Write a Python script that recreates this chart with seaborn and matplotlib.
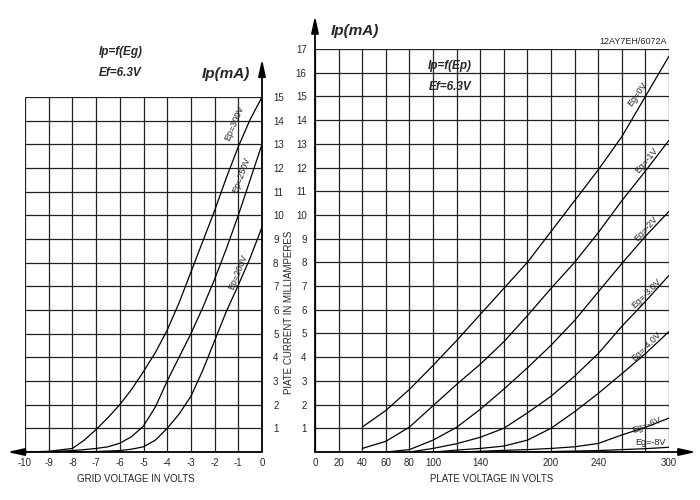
import matplotlib
matplotlib.use("Agg")
import matplotlib.pyplot as plt
import seaborn as sns
import pandas as pd
import numpy as np

# ---------------- data: left panel Ip = f(Eg) ----------------
eg_left = [-10, -9, -8, -7.5, -7, -6.5, -6, -5.5, -5, -4.5, -4, -3.5, -3, -2.5, -2, -1.5, -1, -0.5, 0]
ip_ep300 = [0.0, 0.03, 0.15, 0.5, 0.95, 1.45, 2.0, 2.65, 3.4, 4.2, 5.15, 6.3, 7.6, 8.9, 10.2, 11.6, 12.9, 14.05, 15.0]
ip_ep250 = [0.0, 0.01, 0.06, 0.1, 0.15, 0.22, 0.37, 0.65, 1.1, 1.9, 3.0, 4.0, 5.0, 6.1, 7.3, 8.6, 10.0, 11.5, 13.0]
ip_ep200 = [0.0, 0.0, 0.01, 0.015, 0.02, 0.04, 0.06, 0.12, 0.22, 0.5, 1.0, 1.6, 2.35, 3.45, 4.7, 5.95, 7.05, 8.2, 9.5]
left_names = ["Ep=300V", "Ep=250V", "Ep=200V"]

# ---------------- data: right panel Ip = f(Ep) ----------------
ep_eg0 = [40, 60, 80, 100, 120, 140, 160, 180, 200, 220, 240, 260, 280, 300]
ip_eg0 = [1.05, 1.75, 2.64, 3.65, 4.7, 5.8, 6.9, 8.0, 9.3, 10.6, 11.9, 13.3, 15.0, 16.7]
ep_eg1 = [40, 60, 80, 100, 120, 140, 160, 180, 200, 220, 240, 260, 280, 300]
ip_eg1 = [0.15, 0.45, 1.05, 1.95, 2.85, 3.7, 4.65, 5.75, 6.9, 8.0, 9.25, 10.6, 11.85, 13.15]
ep_eg2 = [60, 80, 100, 120, 140, 160, 180, 200, 220, 240, 260, 280, 300]
ip_eg2 = [0.0, 0.1, 0.5, 1.04, 1.8, 2.65, 3.55, 4.5, 5.55, 6.75, 7.95, 9.1, 10.15]
ep_eg3 = [80, 100, 120, 140, 160, 180, 200, 220, 240, 260, 280, 300]
ip_eg3 = [0.0, 0.15, 0.35, 0.62, 1.0, 1.65, 2.35, 3.2, 4.15, 5.3, 6.35, 7.45]
ep_eg4 = [100, 120, 140, 160, 180, 200, 220, 240, 260, 280, 300]
ip_eg4 = [0.0, 0.08, 0.15, 0.25, 0.5, 1.0, 1.7, 2.47, 3.3, 4.15, 5.08]
ep_eg6 = [120, 140, 160, 180, 200, 220, 240, 260, 280, 300]
ip_eg6 = [0.0, 0.03, 0.07, 0.1, 0.15, 0.22, 0.36, 0.72, 1.04, 1.43]
ep_eg8 = [160, 180, 200, 220, 240, 260, 280, 300]
ip_eg8 = [0.0, 0.01, 0.02, 0.04, 0.06, 0.1, 0.14, 0.2]
right_names = ["Eg=0V", "Eg=-1V", "Eg=-2V", "Eg=-3.0V", "Eg=-4.0V", "Eg=-6V", "Eg=-8V"]

left_xticks = list(range(-10, 1))
left_yticklabels = [""] + [str(i) for i in range(1, 16)]
right_xticks = list(range(0, 301, 20))
right_xticklabels = ["0", "20", "40", "60", "80", "100", "", "140", "", "", "200", "", "240", "", "", "300"]
right_yticklabels = [""] + [str(i) for i in range(1, 18)]

# ---------------- build tables ----------------
df_left = pd.concat([
    pd.DataFrame({"Eg": eg_left, "Ip": ys, "curve": n})
    for ys, n in zip([ip_ep300, ip_ep250, ip_ep200], left_names)
])
right_sets = [(ep_eg0, ip_eg0), (ep_eg1, ip_eg1), (ep_eg2, ip_eg2), (ep_eg3, ip_eg3),
              (ep_eg4, ip_eg4), (ep_eg6, ip_eg6), (ep_eg8, ip_eg8)]
df_right = pd.concat([
    pd.DataFrame({"Ep": xs, "Ip": ys, "curve": n})
    for (xs, ys), n in zip(right_sets, right_names)
])

sns.set_style("white")
plt.rcParams["font.family"] = ["Liberation Sans", "DejaVu Sans"]

W, H = 700, 500
fig = plt.figure(figsize=(7, 5), dpi=100)

def fx(px):
    return px / W

def fy(py):
    return 1 - py / H

GRID = "#222222"
TICKFS = 7

# ---------------- left axes ----------------
axL = fig.add_axes([fx(25), fy(452), fx(262) - fx(25), fy(97) - fy(452)])
sns.lineplot(data=df_left, x="Eg", y="Ip", hue="curve", palette=["black"] * 3,
             legend=False, ax=axL, linewidth=0.9, sort=False)
axL.set_xlim(-10, 0)
axL.set_ylim(0, 15)
axL.set_xticks(left_xticks)
axL.set_xticklabels([str(t) for t in left_xticks], fontsize=TICKFS)
axL.set_yticks(range(0, 16))
axL.set_yticklabels(left_yticklabels, fontsize=TICKFS)
axL.yaxis.tick_right()
axL.tick_params(length=0, pad=4)
axL.tick_params(axis="y", pad=8)
axL.grid(True, color=GRID, linewidth=0.9)
for s in axL.spines.values():
    s.set_visible(False)
axL.set_xlabel("")
axL.set_ylabel("")
arrow = dict(arrowstyle="-|>,head_length=1.0,head_width=0.22", color="black", lw=1.3,
             mutation_scale=10, shrinkA=0, shrinkB=0)
axL.annotate("", xy=(-10.75, 0), xytext=(0, 0), arrowprops=arrow, annotation_clip=False)
axL.annotate("", xy=(0, 16.6), xytext=(0, 0), arrowprops=arrow, annotation_clip=False)

axL.text(-1.15, 13.9, "Ep=300V", rotation=67, fontsize=6.5, ha="center", va="center",
         rotation_mode="anchor")
axL.text(-0.86, 11.7, "Ep=250V", rotation=70, fontsize=6.5, ha="center", va="center",
         rotation_mode="anchor")
axL.text(-1.0, 7.6, "Ep=200V", rotation=68, fontsize=6.5, ha="center", va="center",
         rotation_mode="anchor")

# ---------------- right axes ----------------
axR = fig.add_axes([fx(315), fy(452), fx(669) - fx(315), fy(49) - fy(452)])
sns.lineplot(data=df_right, x="Ep", y="Ip", hue="curve", palette=["black"] * 7,
             legend=False, ax=axR, linewidth=0.9, sort=False)
axR.set_xlim(0, 300)
axR.set_ylim(0, 17)
axR.set_xticks(right_xticks)
axR.set_xticklabels(right_xticklabels, fontsize=TICKFS)
axR.set_yticks(range(0, 18))
axR.set_yticklabels(right_yticklabels, fontsize=TICKFS)
axR.tick_params(length=0, pad=4)
axR.tick_params(axis="y", pad=6)
axR.grid(True, color=GRID, linewidth=0.9)
for s in axR.spines.values():
    s.set_visible(False)
axR.set_xlabel("")
axR.set_ylabel("")
axR.annotate("", xy=(323, 0), xytext=(0, 0), arrowprops=arrow, annotation_clip=False)
axR.annotate("", xy=(0, 18.4), xytext=(0, 0), arrowprops=arrow, annotation_clip=False)

rlabels = [("Eg=0V", 273.5, 15.1, 55), ("Eg=-1V", 281, 12.3, 50), ("Eg=-2V", 280.5, 9.4, 48),
           ("Eg=-3.0V", 281, 6.7, 45), ("Eg=-4.0V", 281, 4.45, 45), ("Eg=-6V", 281, 1.12, 22),
           ("Eg=-8V", 284, 0.38, 0)]
for txt, x, y, r in rlabels:
    axR.text(x, y, txt, rotation=r, fontsize=6.5, ha="center", va="center",
             rotation_mode="anchor")

# ---------------- figure texts ----------------
bi = dict(fontweight="bold", fontstyle="italic")
fig.text(fx(121), fy(52), "Ip=f(Eg)", fontsize=8.5, ha="center", va="center", **bi)
fig.text(fx(120), fy(73), "Ef=6.3V", fontsize=8.5, ha="center", va="center", **bi)
fig.text(fx(226), fy(74), "Ip(mA)", fontsize=11, ha="center", va="center", **bi)
fig.text(fx(355), fy(31), "Ip(mA)", fontsize=11, ha="center", va="center", **bi)
fig.text(fx(450), fy(66), "Ip=f(Ep)", fontsize=8.5, ha="center", va="center", **bi)
fig.text(fx(450), fy(87), "Ef=6.3V", fontsize=8.5, ha="center", va="center", **bi)
fig.text(fx(667), fy(42), "12AY7EH/6072A", fontsize=6.5, ha="right", va="center")
fig.text(fx(136), fy(479), "GRID VOLTAGE IN VOLTS", fontsize=7, ha="center", va="center")
fig.text(fx(492), fy(479), "PLATE VOLTAGE IN VOLTS", fontsize=7, ha="center", va="center")
fig.text(fx(288.5), fy(312), "PIATE CURRENT IN MILLIAMPERES", fontsize=7, rotation=90,
         ha="center", va="center")

fig.savefig("out.png", dpi=100, facecolor="white")
